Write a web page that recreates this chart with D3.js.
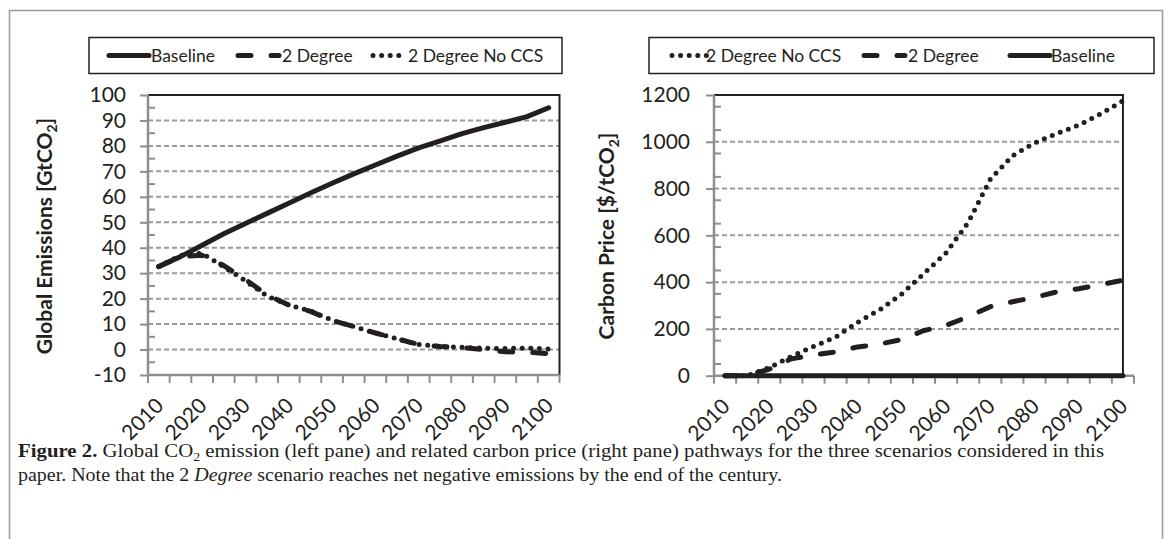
<!DOCTYPE html>
<html>
<head>
<meta charset="utf-8">
<script src="https://cdn.jsdelivr.net/npm/d3@7"></script>
<style>
  body { margin: 0; background: #fff; }
  svg { display: block; }
</style>
</head>
<body>
<svg id="fig" width="1171" height="539"></svg>
<script>
// ---- data ---------------------------------------------------------------
const years = [2010, 2015, 2020, 2025, 2030, 2035, 2040, 2045, 2050, 2055,
               2060, 2065, 2070, 2075, 2080, 2085, 2090, 2095, 2100];
const yearLabels = [2010, 2020, 2030, 2040, 2050, 2060, 2070, 2080, 2090, 2100];

const emissionTicks = [-10, 0, 10, 20, 30, 40, 50, 60, 70, 80, 90, 100];
const priceTicks = [0, 200, 400, 600, 800, 1000, 1200];

// Global CO2 emissions [GtCO2]
const emBaseline = [32.6, 36.5, 41, 45.5, 49.5, 53.5, 57.5, 61.5, 65.3, 69,
                    72.5, 76, 79.2, 82, 84.8, 87.2, 89.3, 91.5, 95];
const em2Degree  = [32.6, 36.5, 37, 33, 27.5, 21.5, 17.5, 15, 11.5, 9,
                    6.5, 4.2, 2, 1.2, 0.8, 0, -0.9, -1.0, -1.6];
const emNoCCS    = [32.6, 37, 37.8, 32.5, 27, 21, 17.5, 15.2, 11.5, 9,
                    6.5, 4.2, 2, 1.2, 0.9, 0.5, 0.4, 0.6, 0.2];

// Carbon price [$/tCO2]
const prBaseline = [0, 0, 0, 0, 0, 0, 0, 0, 0, 0, 0, 0, 0, 0, 0, 0, 0, 0, 0];
const pr2Degree  = [0, 0, 28, 72, 88, 102, 123, 135, 155, 193,
                    215, 252, 295, 316, 335, 358, 372, 390, 408];
const prNoCCS    = [0, 0, 35, 82, 125, 165, 228, 282, 350, 437,
                    525, 655, 840, 940, 995, 1035, 1071, 1120, 1175];

// ---- styling ------------------------------------------------------------
const FONT = "Lato, 'Open Sans', sans-serif";
const INK = "#231f20";
const AXIS_GREY = "#8e8e8e";
const GRID_GREY = "#9a9a9a";
const LINE_W = 5;
const seriesStyle = {
  "Baseline":        { dash: null },
  "2 Degree":        { dash: "13 20" },
  "2 Degree No CCS": { dash: "0 8.6" }
};

const svg = d3.select("#fig");

// outer figure frame
svg.append("path")
  .attr("d", "M9.5,545 V10.5 H1162.5 V545")
  .attr("fill", "none")
  .attr("stroke", "#9b9b9b")
  .attr("stroke-width", 1.5);

function styleLine(sel, name) {
  const st = seriesStyle[name];
  sel.attr("fill", "none")
     .attr("stroke", INK)
     .attr("stroke-width", LINE_W)
     .attr("stroke-linecap", "round")
     .attr("stroke-linejoin", "round");
  if (st.dash) sel.attr("stroke-dasharray", st.dash);
}

function drawPanel(cfg) {
  const g = svg.append("g");
  const x = d3.scaleBand(years, [cfg.x0, cfg.x1]).paddingInner(0).paddingOuter(0);
  const cx = d => x(d) + x.bandwidth() / 2;
  const y = d3.scaleLinear(cfg.domain, [cfg.y1, cfg.y0]);
  // right edge of the framed plot area
  const xr = cfg.frameAtLastPoint ? cx(years[years.length - 1]) : cfg.x1;

  // horizontal dashed gridlines
  g.append("g").selectAll("line")
    .data(cfg.ticks.slice(1, -1))
    .join("line")
      .attr("x1", cfg.x0).attr("x2", xr)
      .attr("y1", d => y(d)).attr("y2", d => y(d))
      .attr("stroke", GRID_GREY)
      .attr("stroke-width", 2)
      .attr("stroke-dasharray", "5 3");

  // plot border (top and right)
  g.append("path")
    .attr("d", `M${cfg.x0},${cfg.y0} H${xr} V${cfg.y1}`)
    .attr("fill", "none")
    .attr("stroke", INK)
    .attr("stroke-width", 2);

  // y axis: major ticks outside, labels
  const yAxis = d3.axisLeft(y)
    .tickValues(cfg.ticks)
    .tickSize(8)
    .tickPadding(cfg.yPad)
    .tickFormat(d => String(d));
  const ya = g.append("g")
    .attr("transform", `translate(${cfg.x0},0)`)
    .call(yAxis);
  ya.select(".domain").remove();
  ya.selectAll(".tick line").attr("stroke", AXIS_GREY).attr("stroke-width", 2);
  ya.selectAll(".tick text")
    .attr("font-family", FONT)
    .attr("font-size", 21)
    .attr("fill", INK);

  // y axis: minor ticks inside
  g.append("g").selectAll("line")
    .data(d3.range(cfg.domain[0] + cfg.minor, cfg.domain[1], cfg.minor * 2))
    .join("line")
      .attr("x1", cfg.x0).attr("x2", cfg.x0 + 7)
      .attr("y1", d => y(d)).attr("y2", d => y(d))
      .attr("stroke", AXIS_GREY)
      .attr("stroke-width", 2);

  // x axis: category boundary ticks
  const bounds = years.map(d => x(d)).concat([cfg.x1]);
  g.append("g").selectAll("line")
    .data(bounds)
    .join("line")
      .attr("x1", d => d).attr("x2", d => d)
      .attr("y1", cfg.y1).attr("y2", cfg.y1 + 8)
      .attr("stroke", AXIS_GREY)
      .attr("stroke-width", 2);

  // x axis labels, rotated
  const xAxis = d3.axisBottom(x).tickValues(yearLabels).tickSize(0);
  const xa = g.append("g")
    .attr("transform", `translate(0,${cfg.y1})`)
    .call(xAxis);
  xa.select(".domain").remove();
  xa.selectAll(".tick text")
    .attr("font-family", FONT)
    .attr("font-size", 21)
    .attr("fill", INK)
    .attr("text-anchor", "end")
    .attr("x", 6)
    .attr("y", 32)
    .attr("dy", 0)
    .attr("transform", "rotate(-45 6 32)");

  // axis lines
  g.append("path")
    .attr("d", `M${cfg.x0},${cfg.y0} V${cfg.y1} H${cfg.x1}`)
    .attr("fill", "none")
    .attr("stroke", AXIS_GREY)
    .attr("stroke-width", 2.5);

  // series
  const line = d3.line().x((d, i) => cx(years[i])).y(d => y(d));
  cfg.series.forEach(s => {
    g.append("path").datum(s.values).attr("d", line).call(styleLine, s.name);
  });

  // y title
  const t = g.append("text")
    .attr("transform", `translate(${cfg.titleX},${cfg.titleY}) rotate(-90)`)
    .attr("text-anchor", "middle")
    .attr("font-family", FONT)
    .attr("font-weight", 700)
    .attr("font-size", 21)
    .attr("fill", INK);
  t.append("tspan").text(cfg.title[0]);
  t.append("tspan").attr("font-size", 14).attr("dy", 5).text(cfg.title[1]);
  t.append("tspan").attr("dy", -5).text(cfg.title[2]);

  // legend
  const lg = g.append("g");
  lg.append("rect")
    .attr("x", cfg.legend.x).attr("y", cfg.legend.y)
    .attr("width", cfg.legend.w).attr("height", cfg.legend.h)
    .attr("fill", "#fff")
    .attr("stroke", INK)
    .attr("stroke-width", 1.5);
  const ly = cfg.legend.y + cfg.legend.h / 2;
  cfg.legend.items.forEach(it => {
    lg.append("line")
      .attr("x1", it.sx).attr("x2", it.sx + it.sw)
      .attr("y1", ly).attr("y2", ly)
      .call(styleLine, it.name);
    lg.append("text")
      .attr("x", it.tx).attr("y", ly + 6.5)
      .attr("font-family", FONT)
      .attr("font-size", 17.5)
      .attr("fill", INK)
      .text(it.name);
  });
}

drawPanel({
  x0: 148, x1: 559.5, y0: 95, y1: 375,
  domain: [-10, 100], ticks: emissionTicks, minor: 5, yPad: 14,
  frameAtLastPoint: false,
  title: ["Global Emissions [GtCO", "2", "]"], titleX: 52, titleY: 236,
  series: [
    { name: "2 Degree No CCS", values: emNoCCS },
    { name: "2 Degree", values: em2Degree },
    { name: "Baseline", values: emBaseline }
  ],
  legend: {
    x: 89, y: 37.5, w: 473, h: 36,
    items: [
      { name: "Baseline", sx: 109, sw: 40, tx: 151 },
      { name: "2 Degree", sx: 238, sw: 41, tx: 282 },
      { name: "2 Degree No CCS", sx: 373, sw: 34.4, tx: 408 }
    ]
  }
});

drawPanel({
  x0: 714, x1: 1134, y0: 95, y1: 375.7,
  domain: [0, 1200], ticks: priceTicks, minor: 50, yPad: 16,
  frameAtLastPoint: true,
  title: ["Carbon Price [$/tCO", "2", "]"], titleX: 614, titleY: 236,
  series: [
    { name: "2 Degree No CCS", values: prNoCCS },
    { name: "2 Degree", values: pr2Degree },
    { name: "Baseline", values: prBaseline }
  ],
  legend: {
    x: 649, y: 37.5, w: 505, h: 36,
    items: [
      { name: "2 Degree No CCS", sx: 672, sw: 34.4, tx: 706 },
      { name: "2 Degree", sx: 864, sw: 41, tx: 908 },
      { name: "Baseline", sx: 1010, sw: 40, tx: 1051 }
    ]
  }
});

// ---- caption --------------------------------------------------------------
const CAP_FONT = "'Liberation Serif', 'DejaVu Serif', serif";
const cap1 = svg.append("text")
  .attr("x", 18).attr("y", 457)
  .attr("font-family", CAP_FONT).attr("font-size", 18).attr("fill", INK)
  .attr("textLength", 1086).attr("lengthAdjust", "spacingAndGlyphs");
cap1.append("tspan").attr("font-weight", 700).text("Figure 2.");
cap1.append("tspan").text(" Global CO");
cap1.append("tspan").attr("font-size", 12).attr("dy", 4).text("2");
cap1.append("tspan").attr("dy", -4)
  .text(" emission (left pane) and related carbon price (right pane) pathways for the three scenarios considered in this");

const cap2 = svg.append("text")
  .attr("x", 18).attr("y", 481)
  .attr("font-family", CAP_FONT).attr("font-size", 18).attr("fill", INK)
  .attr("textLength", 764).attr("lengthAdjust", "spacingAndGlyphs");
cap2.append("tspan").text("paper. Note that the 2 ");
cap2.append("tspan").attr("font-style", "italic").text("Degree");
cap2.append("tspan").text(" scenario reaches net negative emissions by the end of the century.");
</script>
</body>
</html>
